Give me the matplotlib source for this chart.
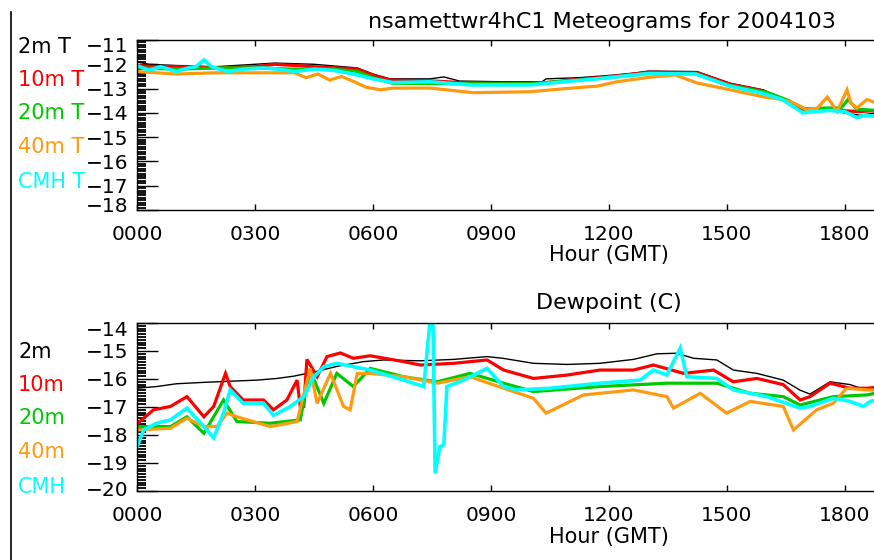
import matplotlib
matplotlib.use("Agg")
import matplotlib.pyplot as plt
from matplotlib.lines import Line2D
from matplotlib.ticker import MultipleLocator
import matplotlib.transforms as mtransforms

# ---------------- data ----------------
hour_ticks = [0, 3, 6, 9, 12, 15, 18]
hour_labels = ["0000", "0300", "0600", "0900", "1200", "1500", "1800"]

# Temperature panel
t2m_h = [0, 0.3, 1.0, 2.0, 3.0, 3.5, 4.5, 5.6, 6.0, 6.43, 7.45, 7.8, 8.2, 9.3, 10.3, 10.4, 11.26, 12.08, 12.6, 13.0, 14.24, 15.08, 15.92, 16.4, 16.93, 17.6, 18.38, 18.8]
t2m_v = [-11.9, -12.0, -12.05, -12.1, -12.0, -11.95, -12.0, -12.15, -12.4, -12.6, -12.6, -12.52, -12.69, -12.72, -12.72, -12.6, -12.55, -12.45, -12.37, -12.28, -12.3, -12.78, -13.05, -13.4, -13.8, -13.9, -14.1, -14.0]

t10m_h = [0, 0.5, 1.0, 2.0, 3.0, 3.5, 4.5, 5.6, 6.0, 6.43, 7.45, 8.2, 9.3, 10.3, 11.26, 12.08, 13.0, 14.24, 15.08, 15.92, 16.4, 16.93, 17.6, 18.38, 18.8]
t10m_v = [-12.05, -12.1, -12.1, -12.15, -12.1, -12.0, -12.1, -12.2, -12.45, -12.65, -12.68, -12.75, -12.78, -12.77, -12.62, -12.5, -12.33, -12.35, -12.82, -13.1, -13.42, -13.85, -13.88, -13.95, -13.9]

t20m_h = [0, 1.0, 2.0, 3.0, 4.0, 5.0, 5.6, 6.0, 6.5, 8.0, 10.0, 11.0, 12.0, 13.0, 14.2, 15.0, 16.0, 16.5, 17.0, 17.5, 17.9, 18.08, 18.3, 18.8]
t20m_v = [-12.15, -12.2, -12.15, -12.15, -12.2, -12.2, -12.3, -12.55, -12.78, -12.8, -12.8, -12.68, -12.55, -12.38, -12.38, -12.85, -13.15, -13.45, -13.85, -13.8, -13.8, -13.45, -13.85, -13.9]

t40m_h = [0, 0.5, 1.0, 2.0, 3.0, 4.0, 4.3, 4.6, 4.9, 5.2, 5.5, 5.83, 6.2, 6.5, 7.45, 8.55, 10.0, 10.9, 11.7, 12.2, 13.04, 13.68, 14.24, 15.08, 15.92, 16.4, 16.7, 17.03, 17.3, 17.55, 17.8, 18.05, 18.15, 18.3, 18.56, 18.8]
t40m_v = [-12.3, -12.35, -12.4, -12.35, -12.35, -12.35, -12.55, -12.4, -12.65, -12.5, -12.7, -12.95, -13.05, -12.98, -12.98, -13.17, -13.13, -13.0, -12.9, -12.72, -12.53, -12.44, -12.77, -13.05, -13.34, -13.45, -13.6, -13.88, -13.8, -13.35, -13.95, -13.05, -13.6, -13.8, -13.45, -13.6]

tcmh_h = [0, 0.3, 0.6, 1.0, 1.3, 1.5, 1.7, 1.9, 2.3, 2.7, 3.2, 3.6, 4.0, 4.5, 5.0, 5.5, 6.0, 6.5, 7.45, 8.5, 10.0, 11.0, 12.0, 13.0, 14.2, 15.08, 15.92, 16.4, 16.93, 17.2, 17.6, 18.0, 18.3, 18.5, 18.8]
tcmh_v = [-12.05, -12.25, -12.1, -12.3, -12.15, -12.1, -11.82, -12.1, -12.3, -12.2, -12.15, -12.2, -12.3, -12.2, -12.25, -12.4, -12.6, -12.75, -12.72, -12.85, -12.85, -12.7, -12.55, -12.38, -12.4, -12.9, -13.2, -13.45, -14.0, -13.95, -13.9, -13.95, -14.2, -14.1, -14.15]

# Dewpoint panel
d2m_h = [0, 0.5, 1.0, 1.7, 2.54, 3.05, 3.56, 3.98, 4.5, 5.08, 5.76, 6.27, 7.2, 8.05, 8.9, 9.3, 10.08, 10.93, 11.77, 12.62, 13.22, 13.72, 14.15, 14.74, 15.16, 15.76, 16.43, 16.86, 17.11, 17.62, 18.13, 18.55, 18.8]
d2m_v = [-16.33, -16.27, -16.17, -16.12, -16.07, -16.04, -15.98, -15.9, -15.75, -15.55, -15.38, -15.32, -15.35, -15.3, -15.2, -15.26, -15.44, -15.48, -15.44, -15.3, -15.1, -15.08, -15.26, -15.32, -15.68, -15.8, -16.04, -16.4, -16.54, -16.1, -16.2, -16.4, -16.35]

d10m_h = [0, 0.42, 0.85, 1.27, 1.7, 1.95, 2.25, 2.37, 2.7, 3.22, 3.47, 3.81, 4.07, 4.15, 4.24, 4.32, 4.58, 4.83, 5.17, 5.5, 5.93, 6.78, 7.2, 8.05, 8.9, 9.32, 10.08, 10.93, 11.77, 12.62, 13.13, 13.9, 14.66, 15.16, 15.76, 16.43, 16.86, 17.11, 17.62, 18.13, 18.55, 18.8]
d10m_v = [-17.6, -17.1, -16.98, -16.63, -17.35, -16.98, -15.8, -16.27, -16.75, -16.75, -17.1, -16.75, -16.04, -16.98, -16.98, -15.3, -15.92, -15.2, -15.07, -15.26, -15.17, -15.38, -15.5, -15.44, -15.32, -15.68, -15.98, -15.86, -15.68, -15.68, -15.5, -15.8, -15.68, -16.1, -15.98, -16.2, -16.75, -16.63, -16.15, -16.33, -16.33, -16.3]

d20m_h = [0, 0.85, 1.27, 1.7, 2.2, 2.54, 3.39, 4.15, 4.4, 4.75, 5.08, 5.5, 5.93, 6.78, 7.63, 8.47, 9.32, 10.08, 11.77, 13.47, 14.74, 15.59, 16.43, 16.86, 17.7, 18.55, 18.8]
d20m_v = [-17.7, -17.7, -17.35, -17.94, -16.75, -17.52, -17.58, -17.46, -15.68, -16.87, -15.8, -16.27, -15.62, -15.92, -16.1, -15.8, -16.15, -16.45, -16.27, -16.15, -16.15, -16.51, -16.63, -16.93, -16.63, -16.57, -16.5]

d40m_h = [0, 0.85, 1.27, 1.7, 2.03, 2.29, 2.54, 3.39, 4.07, 4.4, 4.58, 4.92, 5.25, 5.42, 5.6, 5.93, 6.78, 7.63, 8.47, 9.32, 10.08, 10.4, 11.35, 12.62, 13.47, 13.64, 14.32, 14.99, 15.59, 16.43, 16.69, 17.28, 17.7, 18.04, 18.55, 18.8]
d40m_v = [-17.82, -17.76, -17.4, -17.7, -17.7, -17.22, -17.35, -17.7, -17.52, -15.62, -16.87, -15.8, -16.98, -17.1, -15.8, -15.8, -15.92, -16.15, -15.92, -16.33, -16.69, -17.22, -16.57, -16.39, -16.63, -17.04, -16.51, -17.22, -16.8, -16.98, -17.82, -17.1, -16.87, -16.33, -16.39, -16.4]

dcmh_h = [0, 0.17, 0.5, 0.85, 1.27, 1.7, 1.95, 2.2, 2.37, 2.7, 3.22, 3.47, 3.9, 4.24, 4.5, 4.75, 5.08, 5.5, 5.93, 6.78, 7.29, 7.48, 7.52, 7.58, 7.7, 7.8, 7.88, 8.3, 8.9, 9.32, 9.66, 10.5, 11.77, 12.79, 13.13, 13.47, 13.81, 13.98, 14.74, 15.16, 16.01, 16.86, 17.11, 17.7, 18.13, 18.47, 18.64, 18.8]
dcmh_v = [-18.42, -17.82, -17.58, -17.46, -17.04, -17.7, -18.1, -17.22, -16.39, -16.87, -16.87, -17.3, -16.98, -16.63, -15.92, -15.56, -15.44, -15.56, -15.68, -16.04, -16.27, -13.5, -13.5, -19.36, -18.42, -18.35, -16.27, -16.04, -15.62, -16.27, -16.39, -16.33, -16.15, -16.04, -15.68, -15.86, -14.9, -15.92, -15.98, -16.39, -16.63, -17.04, -16.98, -16.69, -16.8, -16.98, -16.8, -16.75]

temp_labels = ["2m T", "10m T", "20m T", "40m T", "CMH T"]
dew_labels = ["2m", "10m", "20m", "40m", "CMH"]
colors = ["#000000", "#ff0000", "#00c800", "#ff9a10", "#00ffff"]
widths = [1.0, 2.3, 2.3, 2.3, 2.6]

# ---------------- figure ----------------
W, H = 874, 560
fig = plt.figure(figsize=(W / 100, H / 100), dpi=100)
fig.patch.set_facecolor("white")
FS = 15


def px_box(x0, y0, x1, y1):
    return [x0 / W, 1 - y1 / H, (x1 - x0) / W, (y1 - y0) / H]


ax1 = fig.add_axes(px_box(137, 40, 1081, 210))
ax2 = fig.add_axes(px_box(137, 323, 1081, 491))


def style(ax, ylo, yhi):
    ax.set_xlim(0, 24)
    ax.set_ylim(ylo, yhi)
    ax.set_xticks(hour_ticks)
    ax.set_xticklabels(hour_labels)
    ax.set_yticks(list(range(int(yhi), int(ylo) - 1, -1)))
    ax.yaxis.set_minor_locator(MultipleLocator(0.1))
    ax.tick_params(axis="x", which="major", direction="in", length=4, width=1,
                   top=True, bottom=True, labelsize=14.5, pad=11)
    ax.tick_params(axis="y", which="major", direction="in", length=15, width=1,
                   left=True, right=False, labelsize=14.5, pad=6)
    ax.tick_params(axis="y", which="minor", direction="in", length=6.5, width=1.3,
                   left=True, right=False)
    for s in ax.spines.values():
        s.set_linewidth(1.0)
    ax.set_xlabel("Hour (GMT)", fontsize=FS)
    ax.xaxis.label.set_va("center")


style(ax1, -18, -11)
style(ax2, -20, -14)
ax1.xaxis.set_label_coords((609 - 137) / 944, -(255 - 210) / 170)
ax2.xaxis.set_label_coords((609 - 137) / 944, -(537 - 491) / 168)

temp_series = [(t2m_h, t2m_v), (t10m_h, t10m_v), (t20m_h, t20m_v), (t40m_h, t40m_v), (tcmh_h, tcmh_v)]
dew_series = [(d2m_h, d2m_v), (d10m_h, d10m_v), (d20m_h, d20m_v), (d40m_h, d40m_v), (dcmh_h, dcmh_v)]
for (h, v), c, lw in zip(temp_series, colors, widths):
    ax1.plot(h, v, color=c, lw=lw, solid_joinstyle="miter")
for (h, v), c, lw in zip(dew_series, colors, widths):
    ax2.plot(h, v, color=c, lw=lw, solid_joinstyle="miter")

# IDL-style shifted end labels
fig.canvas.draw()


def shift_label(lbl, dy_px):
    lbl.set_transform(lbl.get_transform() + mtransforms.ScaledTranslation(0, -dy_px / 100, fig.dpi_scale_trans))


yl1 = ax1.get_yticklabels()
shift_label(yl1[0], 5)
shift_label(yl1[-1], -5)
yl2 = ax2.get_yticklabels()
shift_label(yl2[0], 5)
shift_label(yl2[-1], -3)

# series labels on the left
temp_y = [47, 80, 113, 147, 182]
dew_y = [352, 385, 418, 452, 487]
for lab, yy, c in zip(temp_labels, temp_y, colors):
    fig.text(18 / W, 1 - yy / H, lab, color=c, fontsize=FS, ha="left", va="center")
for lab, yy, c in zip(dew_labels, dew_y, colors):
    fig.text(18 / W, 1 - yy / H, lab, color=c, fontsize=FS, ha="left", va="center")

# titles
fig.text(602 / W, 1 - 22 / H, "nsamettwr4hC1 Meteograms for 2004103", fontsize=16,
         ha="center", va="center")
fig.text(609 / W, 1 - 303 / H, "Dewpoint (C)", fontsize=16, ha="center", va="center")

# left border line
fig.add_artist(Line2D([11 / W, 11 / W], [0, 1 - 12 / H], color="black", lw=1.2,
                      transform=fig.transFigure))

fig.savefig("out.png", dpi=100)
